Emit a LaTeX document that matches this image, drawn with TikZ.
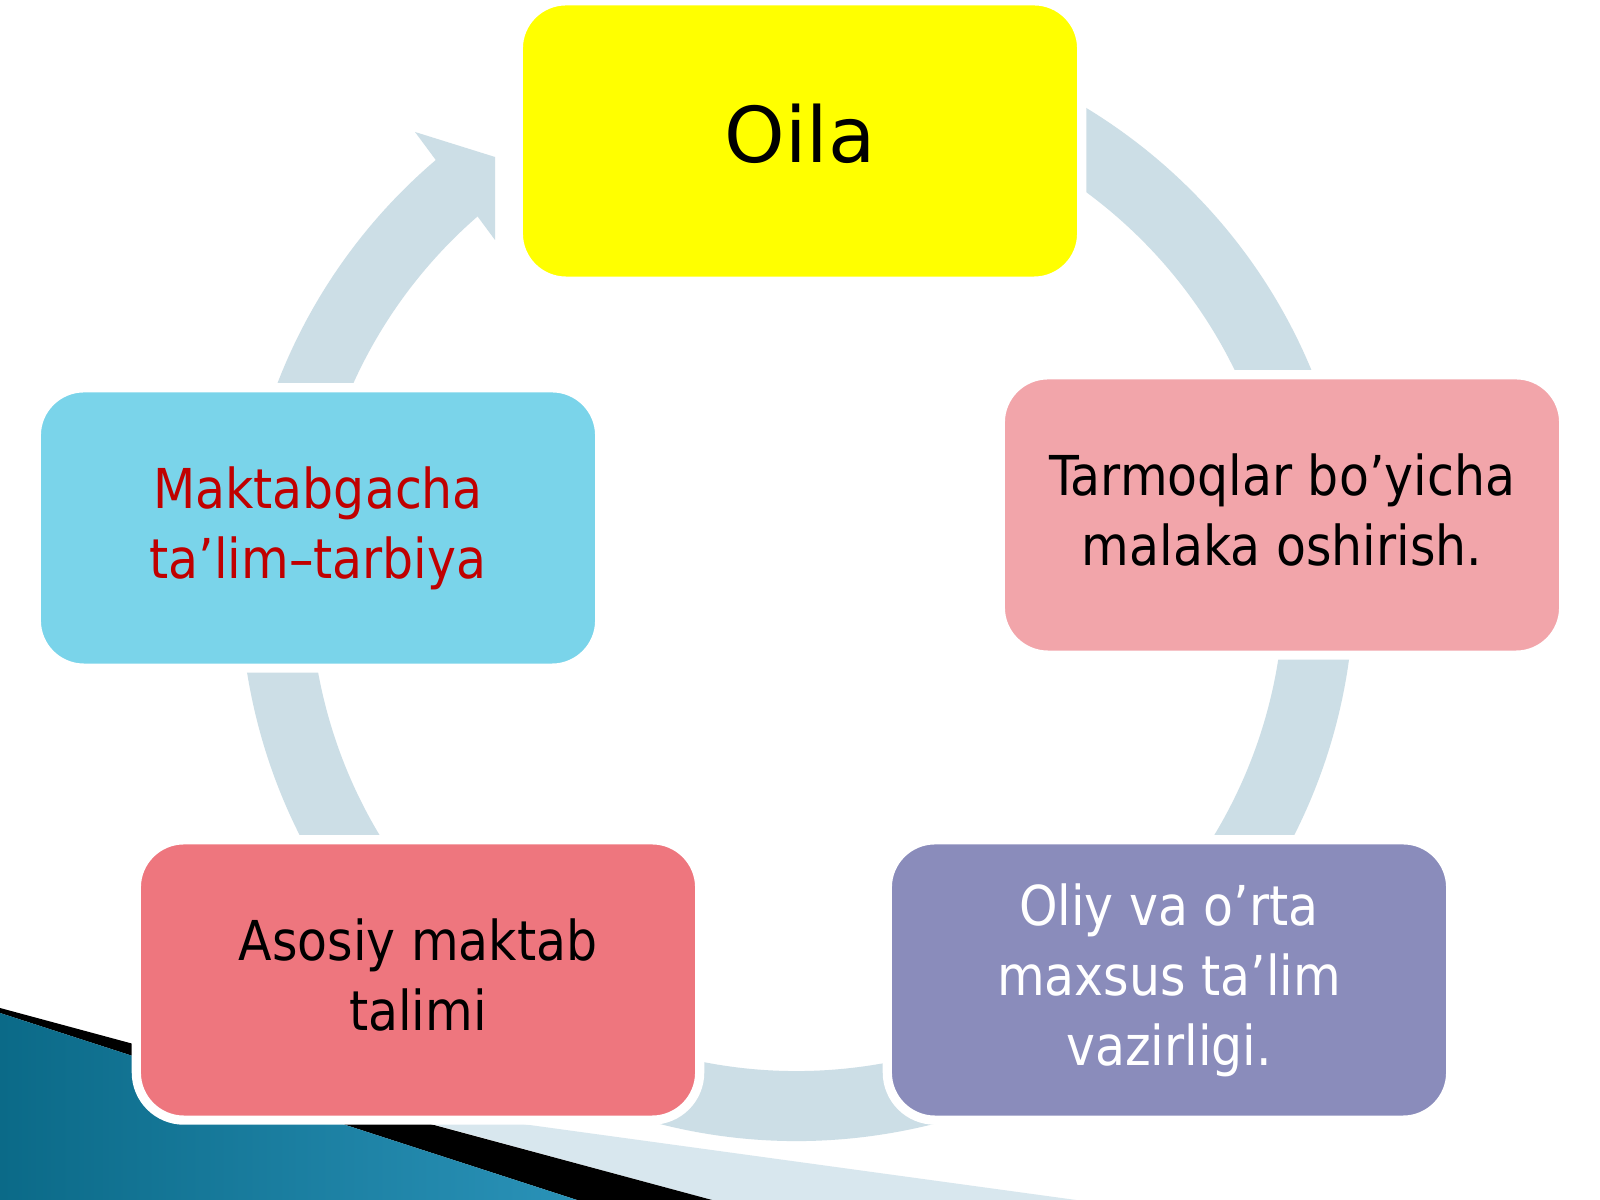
\documentclass[tikz,border=0pt]{standalone}
\usepackage{fontspec}
\setmainfont{DejaVu Sans}[FakeStretch=0.89]
\newfontfamily\oilafont{DejaVu Sans}
\usepackage{tikz}

\definecolor{ringblue}{HTML}{CCDEE6}
\definecolor{oilayellow}{HTML}{FFFF00}
\definecolor{maktabcyan}{HTML}{7AD4EA}
\definecolor{tarmoqpink}{HTML}{F2A5AA}
\definecolor{asosiyred}{HTML}{EE767E}
\definecolor{oliypurple}{HTML}{8A8CBB}
\definecolor{textred}{HTML}{C00000}
\definecolor{tealdark}{HTML}{0B6A88}
\definecolor{teallight}{HTML}{58B8DE}
\definecolor{tealmid}{HTML}{2A92B8}
\definecolor{paleblue}{HTML}{D8E7EE}

\begin{document}
\begin{tikzpicture}[x = 0.025cm, y = 0.025cm,
        box/.style = {rectangle, rounded corners = 1.125cm, minimum width = 13.95cm, minimum height = 6.875cm, draw = white, line width = 0.1cm, preaction = {draw = white, line width = 0.36cm}, align = center, font = \fontsize{39.1pt}{49.8pt}\selectfont},
        ring/.style = {draw = ringblue, line width = 1.75cm}]
        \useasboundingbox (0, 0) rectangle (1600, 1200);
        \fill [white] (0, 0) rectangle (1600, 1200);
        % corner of the slide
        \fill [paleblue] (340, 101) -- (1076, 0) -- (712, 0) -- cycle;
        \fill [black] (0, 192) -- (712, 0) -- (577, 0) -- (0, 187) -- cycle;
        \shade [left color = tealdark, middle color = teallight, right color = tealmid] (0, 187) -- (577, 0) -- (0, 0) -- cycle;
        % cycle arrow
        \coordinate (ringc) at (797, 616);
        \draw [ring] ([shift = {(100:522)}] ringc) arc [start angle = 100, end angle = -230.5, radius = 522];
        \fill [ringblue] (415, 1068) -- (495, 1043) -- (495, 960) -- cycle;
        % boxes
        \node [box, fill = oilayellow, font = \oilafont\fontsize{54.8pt}{60pt}\selectfont] (oila) at (800, 1059) {Oila\vphantom{y}};
        \node [box, fill = maktabcyan, text = textred] (maktab) at (318, 672) {Maktabgacha\\ ta’lim–tarbiya};
        \node [box, fill = tarmoqpink] (tarmoq) at (1282, 685) {Tarmoqlar bo’yicha\\ malaka oshirish.\vphantom{y}};
        \node [box, fill = asosiyred] (asosiy) at (418, 220) {Asosiy maktab\\ talimi\vphantom{y}};
        \node [box, fill = oliypurple, text = white] (oliy) at (1169, 220) {Oliy va o’rta\\ maxsus ta’lim\\ vazirligi.};
    \end{tikzpicture}
\end{document}
